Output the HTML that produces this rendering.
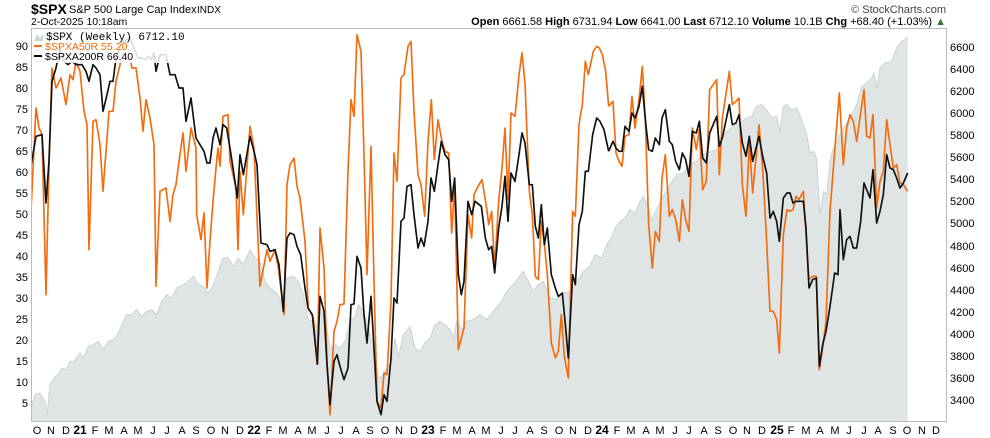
<!DOCTYPE html>
<html><head><meta charset="utf-8"><style>
html,body{margin:0;padding:0;background:#fff;width:990px;height:438px;overflow:hidden}
svg{display:block;font-family:"Liberation Sans",sans-serif}
.o{fill:none;stroke:#f26d10;stroke-width:5;stroke-linejoin:round}
.k{fill:none;stroke:#111;stroke-width:5;stroke-linejoin:round}
.g{fill:#dfe5e5;stroke:none}
.ge{fill:none;stroke:#cdd3d3;stroke-width:3}
</style></head><body>
<svg width="990" height="438" viewBox="0 0 990 438">
<defs>
<clipPath id="c"><rect x="32" y="28" width="914" height="394"/></clipPath>
<clipPath id="c1"><rect x="0" y="0" width="870" height="1200"/></clipPath>
<clipPath id="c2"><rect x="0" y="0" width="870" height="1200"/></clipPath>
<clipPath id="c3"><rect x="0" y="0" width="900" height="1200"/></clipPath>
</defs>
<text x="31" y="14" font-size="14" font-weight="bold" fill="#000">$SPX</text>
<text x="69" y="13" font-size="11" fill="#000">S&amp;P 500 Large Cap Index</text>
<text x="197" y="13" font-size="10" fill="#000">INDX</text>
<text x="31" y="25" font-size="10.5" fill="#000">2-Oct-2025 10:18am</text>
<text x="946" y="13" font-size="11" fill="#444" text-anchor="end">© StockCharts.com</text>
<text x="946" y="25" font-size="11" fill="#000" text-anchor="end"><tspan font-weight="bold">Open</tspan> 6661.58 <tspan font-weight="bold">High</tspan> 6731.94 <tspan font-weight="bold">Low</tspan> 6641.00 <tspan font-weight="bold">Last</tspan> 6712.10 <tspan font-weight="bold">Volume</tspan> 10.1B <tspan font-weight="bold">Chg</tspan> +68.40 (+1.03%) <tspan fill="#2a7a2a">▲</tspan></text>
<g clip-path="url(#c)">
<g transform="translate(30,28) scale(0.33333)">
<g clip-path="url(#c1)">
<polygon class="g" points="0,1182 0,1150 15,1100 30,1095 45,1120 51,1160 60,1070 72,1050 84,1040 96,1020 108,1025 120,1000 132,1000 150,975 160,990 175,955 190,950 205,940 220,965 235,940 250,935 265,915 280,880 290,860 305,860 320,845 335,865 350,850 365,845 380,860 395,820 410,800 425,810 440,780 460,770 475,760 490,745 505,770 520,775 535,795 550,770 565,730 578,690 595,690 610,715 625,690 640,710 660,665 675,690 690,700 705,760 720,780 740,795 755,820 770,750 790,745 805,760 820,800 835,875 850,880 865,900 880,960 900,1000 900,1182"/>
<polyline class="ge" points="0,1150 15,1100 30,1095 45,1120 51,1160 60,1070 72,1050 84,1040 96,1020 108,1025 120,1000 132,1000 150,975 160,990 175,955 190,950 205,940 220,965 235,940 250,935 265,915 280,880 290,860 305,860 320,845 335,865 350,850 365,845 380,860 395,820 410,800 425,810 440,780 460,770 475,760 490,745 505,770 520,775 535,795 550,770 565,730 578,690 595,690 610,715 625,690 640,710 660,665 675,690 690,700 705,760 720,780 740,795 755,820 770,750 790,745 805,760 820,800 835,875 850,880 865,900 880,960 900,1000"/>
</g></g>
<g transform="translate(320,28) scale(0.33333)">
<g clip-path="url(#c2)">
<polygon class="g" points="0,1182 0,840 15,870 30,960 45,950 60,960 75,940 90,880 105,865 115,830 130,850 145,895 160,960 175,1050 185,1045 200,1020 215,1000 225,930 235,990 250,920 270,895 285,960 300,970 315,945 330,930 345,890 360,880 375,890 390,905 400,930 410,880 425,905 440,880 460,875 480,860 500,875 520,850 545,820 560,790 580,770 595,750 610,730 625,760 640,790 655,770 670,760 690,810 710,815 730,795 750,790 765,770 790,730 810,715 825,680 845,690 860,650 880,620 900,580 900,1182"/>
<polyline class="ge" points="0,840 15,870 30,960 45,950 60,960 75,940 90,880 105,865 115,830 130,850 145,895 160,960 175,1050 185,1045 200,1020 215,1000 225,930 235,990 250,920 270,895 285,960 300,970 315,945 330,930 345,890 360,880 375,890 390,905 400,930 410,880 425,905 440,880 460,875 480,860 500,875 520,850 545,820 560,790 580,770 595,750 610,730 625,760 640,790 655,770 670,760 690,810 710,815 730,795 750,790 765,770 790,730 810,715 825,680 845,690 860,650 880,620 900,580"/>
</g></g>
<g transform="translate(610,28) scale(0.33333)">
<g clip-path="url(#c3)">
<polygon class="g" points="0,1182 0,640 15,600 30,580 45,570 60,545 75,555 90,520 100,505 115,540 125,575 140,545 155,510 170,490 180,470 200,440 220,435 240,410 260,400 275,380 290,375 305,370 320,365 335,330 350,310 370,295 390,285 410,270 425,265 440,235 455,230 470,245 485,270 500,265 510,310 520,235 530,230 545,245 560,240 575,275 590,320 600,375 610,370 620,390 630,560 640,490 650,500 660,400 670,360 685,330 700,300 720,270 740,230 755,175 770,165 785,150 792,135 800,180 810,120 825,105 845,100 860,60 875,40 885,35 893,25 893,1182"/>
<polyline class="ge" points="0,640 15,600 30,580 45,570 60,545 75,555 90,520 100,505 115,540 125,575 140,545 155,510 170,490 180,470 200,440 220,435 240,410 260,400 275,380 290,375 305,370 320,365 335,330 350,310 370,295 390,285 410,270 425,265 440,235 455,230 470,245 485,270 500,265 510,310 520,235 530,230 545,245 560,240 575,275 590,320 600,375 610,370 620,390 630,560 640,490 650,500 660,400 670,360 685,330 700,300 720,270 740,230 755,175 770,165 785,150 792,135 800,180 810,120 825,105 845,100 860,60 875,40 885,35 893,25"/>
</g></g>
<g transform="translate(30,28) scale(0.33333)">
<polyline class="o" points="0,610 18,240 27,300 36,320 48,800 57,410 66,120 78,180 93,150 108,230 120,140 129,155 138,100 150,130 162,250 171,290 177,665 189,280 198,275 210,350 219,490 237,250 249,250 258,160 270,110 282,60 288,40 294,60 306,120 318,120 330,210 339,310 348,215 360,270 372,350 378,775 390,490 408,480 420,580 429,500 438,470 447,400 459,315 468,430 483,300 498,360 500,560 513,635 522,555 531,780 540,640 549,520 558,420 564,360 570,415 579,265 594,260 600,400 618,480 624,665 630,430 640,560 660,295 672,360 690,775 711,665 720,700 735,665 745,720 762,860 771,470 780,410 792,390 801,475 810,510 825,640 835,840 850,870 862,1010"/>
<polyline class="k" points="0,430 18,325 36,320 48,525 57,400 66,160 78,120 90,60 102,100 114,110 126,100 138,110 156,110 168,130 177,160 189,110 198,120 210,140 219,250 231,200 240,160 249,160 258,90 270,55 282,40 300,30 312,60 324,90 336,90 345,95 355,85 363,95 372,75 378,130 390,80 408,80 420,140 435,140 447,180 459,180 468,280 483,210 498,330 510,350 522,370 531,405 540,405 549,330 558,300 570,350 579,290 590,300 600,360 612,440 622,510 630,380 640,440 660,325 672,370 681,410 693,645 711,650 720,670 735,665 747,710 760,850 771,630 780,615 792,620 801,655 812,680 825,780 834,840 847,860 862,1010"/>
</g>
<g transform="translate(320,28) scale(0.33333)">
<polyline class="o" points="-8,1010 0,600 12,720 21,1000 30,1160 42,910 51,880 60,830 72,828 84,430 93,215 102,265 111,20 123,70 132,380 141,740 153,355 162,760 171,1120 183,1140 192,1035 201,1040 213,820 222,375 231,460 243,150 252,140 264,55 273,40 282,250 294,440 303,470 314,565 324,340 334,215 343,395 354,275 366,340 375,370 386,375 395,615 404,470 415,965 432,900 444,560 455,630 462,500 474,475 486,455 500,540 506,590 515,550 524,720 536,520 546,420 555,300 564,515 573,255 585,265 597,140 606,75 615,165 628,490 637,560 646,745 655,755 664,580 673,645 682,740 694,945 706,990 715,970 724,860 733,985 745,1050 758,550 766,565 777,290 787,230 796,100 805,140 820,70 830,55 838,60 847,80 857,130 866,235"/>
<polyline class="k" points="-8,1010 0,805 12,850 21,1010 30,1130 42,1000 51,980 60,1015 72,1055 84,1020 93,830 102,828 111,685 123,720 132,860 141,945 153,805 162,960 171,1120 183,1160 192,1100 201,1120 213,990 222,810 231,825 243,580 252,570 261,475 273,470 282,560 294,660 303,630 312,655 324,580 333,450 343,490 354,410 364,340 375,380 386,395 395,520 404,450 415,740 424,800 432,760 444,520 455,560 465,520 484,535 496,630 506,665 515,655 524,735 536,600 546,535 555,445 564,580 573,435 585,460 597,380 606,315 615,345 628,470 637,470 646,595 655,630 664,530 673,650 682,600 694,740 706,780 715,805 727,795 736,890 745,990 758,740 766,770 777,590 787,550 796,430 805,430 818,320 830,270 840,280 852,305 866,370"/>
</g>
<g transform="translate(610,28) scale(0.33333)">
<polyline class="o" points="-4,235 9,220 18,375 27,400 36,415 45,325 57,320 66,205 75,300 87,215 97,115 106,275 116,590 127,720 136,610 148,640 156,450 166,380 178,565 187,545 197,575 208,640 217,515 227,575 237,610 247,300 259,365 268,305 278,485 289,460 299,185 320,155 328,440 337,270 358,130 367,230 378,220 387,210 397,470 408,565 418,345 428,495 447,290 458,420 470,640 480,850 490,850 500,875 508,975 520,620 531,545 540,550 549,545 558,505 567,515 580,490 588,620 597,755 608,745 619,745 628,1025 638,960 648,880 660,550 674,370 688,195 700,410 710,300 720,260 730,280 740,340 762,185 770,325 780,330 789,260 800,540 810,460 820,430 830,275 840,350 850,420 860,410 870,465 880,470 893,490"/>
<polyline class="k" points="-4,370 9,340 18,360 27,370 36,370 45,295 57,310 66,255 75,270 87,235 97,175 106,275 116,365 127,370 136,330 148,350 156,270 166,245 178,340 187,350 197,400 208,425 217,375 227,395 237,445 247,310 259,315 268,280 278,390 289,405 299,315 320,265 328,355 337,330 358,230 367,290 378,285 387,260 397,345 408,385 418,325 428,400 447,325 458,385 470,435 480,570 490,550 500,580 508,640 520,510 531,495 540,495 549,525 558,520 567,520 580,520 588,600 597,780 608,755 619,750 628,1015 638,950 648,910 660,835 674,735 684,740 690,545 700,695 710,635 720,625 730,660 740,660 752,580 762,465 770,485 780,510 789,425 800,585 810,550 820,500 830,380 840,420 850,425 860,450 870,480 880,465 893,435"/>
</g>
</g>
<rect x="31.5" y="28.5" width="915" height="393" fill="none" stroke="#bbb" stroke-width="1"/>
<rect x="34" y="30" width="150" height="33" fill="#fff" opacity="0.85"/>
<polygon points="34,41 37,34 40,38 43,33 43,41" fill="#cfd6d6"/>
<text x="46" y="40" font-size="11" font-family="Liberation Mono,monospace" fill="#000">$SPX (Weekly) 6712.10</text>
<rect x="34" y="45" width="8" height="2" fill="#f26d10"/>
<text x="45" y="50" font-size="10.5" fill="#f26d10">$SPXA50R 55.20</text>
<rect x="34" y="55" width="8" height="2" fill="#000"/>
<text x="45" y="60" font-size="10.5" fill="#000">$SPXA200R 66.40</text>
<g font-size="11" fill="#000" text-anchor="end">
<text x="28" y="50">90</text><text x="28" y="71">85</text><text x="28" y="92">80</text><text x="28" y="113">75</text><text x="28" y="134">70</text><text x="28" y="155">65</text><text x="28" y="176">60</text><text x="28" y="197">55</text><text x="28" y="218">50</text><text x="28" y="239">45</text><text x="28" y="260">40</text><text x="28" y="281">35</text><text x="28" y="302">30</text><text x="28" y="323">25</text><text x="28" y="344">20</text><text x="28" y="365">15</text><text x="28" y="386">10</text><text x="28" y="407">5</text>
</g>
<g font-size="11" fill="#000">
<text x="950" y="51">6600</text><text x="950" y="73">6400</text><text x="950" y="95">6200</text><text x="950" y="117">6000</text><text x="950" y="139">5800</text><text x="950" y="161">5600</text><text x="950" y="183">5400</text><text x="950" y="205">5200</text><text x="950" y="227">5000</text><text x="950" y="250">4800</text><text x="950" y="272">4600</text><text x="950" y="294">4400</text><text x="950" y="316">4200</text><text x="950" y="338">4000</text><text x="950" y="360">3800</text><text x="950" y="382">3600</text><text x="950" y="404">3400</text>
</g>
<g font-size="11" fill="#000" text-anchor="middle">
<text x="37" y="434">O</text><text x="51" y="434">N</text><text x="66" y="434">D</text><text x="80" y="434" font-weight="bold" font-size="12">21</text><text x="95" y="434">F</text><text x="109" y="434">M</text><text x="124" y="434">A</text><text x="138" y="434">M</text><text x="153" y="434">J</text><text x="167" y="434">J</text><text x="182" y="434">A</text><text x="196" y="434">S</text><text x="211" y="434">O</text><text x="225" y="434">N</text><text x="240" y="434">D</text><text x="254" y="434" font-weight="bold" font-size="12">22</text><text x="269" y="434">F</text><text x="283" y="434">M</text><text x="298" y="434">A</text><text x="312" y="434">M</text><text x="327" y="434">J</text><text x="341" y="434">J</text><text x="356" y="434">A</text><text x="370" y="434">S</text><text x="385" y="434">O</text><text x="399" y="434">N</text><text x="414" y="434">D</text><text x="428" y="434" font-weight="bold" font-size="12">23</text><text x="443" y="434">F</text><text x="457" y="434">M</text><text x="472" y="434">A</text><text x="486" y="434">M</text><text x="501" y="434">J</text><text x="515" y="434">J</text><text x="530" y="434">A</text><text x="544" y="434">S</text><text x="559" y="434">O</text><text x="573" y="434">N</text><text x="588" y="434">D</text><text x="602" y="434" font-weight="bold" font-size="12">24</text><text x="617" y="434">F</text><text x="631" y="434">M</text><text x="646" y="434">A</text><text x="660" y="434">M</text><text x="675" y="434">J</text><text x="689" y="434">J</text><text x="704" y="434">A</text><text x="718" y="434">S</text><text x="733" y="434">O</text><text x="747" y="434">N</text><text x="762" y="434">D</text><text x="777" y="434" font-weight="bold" font-size="12">25</text><text x="791" y="434">F</text><text x="806" y="434">M</text><text x="820" y="434">A</text><text x="835" y="434">M</text><text x="849" y="434">J</text><text x="864" y="434">J</text><text x="878" y="434">A</text><text x="893" y="434">S</text><text x="907" y="434">O</text><text x="922" y="434">N</text><text x="936" y="434">D</text>
</g>
</svg>
</body></html>
